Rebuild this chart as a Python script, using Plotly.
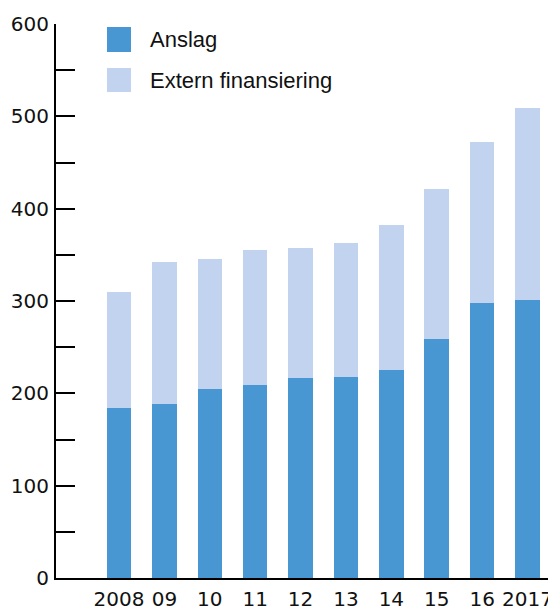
import plotly.graph_objects as go

years = ["2008", "09", "10", "11", "12", "13", "14", "15", "16", "2017"]
anslag = [184, 188, 205, 209, 217, 218, 225, 259, 298, 301]
extern = [126, 154, 141, 146, 140, 145, 157, 162, 174, 208]
series_names = ["Anslag", "Extern finansiering"]
colors = ["#4897d3", "#c2d3ef"]
y_ticks = [0, 100, 200, 300, 400, 500, 600]

pos = list(range(len(years)))

fig = go.Figure()
fig.add_trace(go.Bar(x=pos, y=anslag, name=series_names[0], marker=dict(color=colors[0], line=dict(width=0)),
                     width=0.54, showlegend=False))
fig.add_trace(go.Bar(x=pos, y=extern, name=series_names[1], marker=dict(color=colors[1], line=dict(width=0)),
                     width=0.54, showlegend=False))

tick_font = dict(family="DejaVu Sans", size=20, color="#111111")
leg_font = dict(family="Liberation Sans", size=22, color="#111111")

# page body has an 8px margin, so the figure is sized/offset to compensate
W, H = 548, 604
ML, MR, MT, MB = 48, 6, 16, 34

fig.update_layout(
    barmode="stack",
    width=W, height=H,
    margin=dict(l=ML, r=MR, t=MT, b=MB, pad=0),
    plot_bgcolor="white", paper_bgcolor="white",
    xaxis=dict(range=[-1.388, 9.495], tickvals=pos, ticktext=years, showgrid=False, zeroline=False,
               showline=True, linecolor="black", linewidth=2, ticks="", tickfont=tick_font,
               ticklabelstandoff=2, automargin=False),
    yaxis=dict(range=[0, 600], tickvals=y_ticks, showgrid=False, zeroline=False,
               showline=True, linecolor="black", linewidth=2, ticks="inside", ticklen=19,
               tickwidth=2, tickcolor="black", tickfont=tick_font, ticklabelstandoff=1,
               automargin=False,
               minor=dict(dtick=50, tick0=0, ticks="inside", ticklen=19, tickwidth=2, tickcolor="black")),
)

# right end tick of x axis
fig.add_shape(type="line", xref="paper", yref="y", x0=1, x1=1, y0=0, y1=15,
              line=dict(color="black", width=2))

# legend swatches (positions given in screenshot pixels)
pw = W - ML - MR
ph = H - MT - MB
def px_x(p):
    return (p - 8 - ML) / pw
def px_y(p):
    return (H - MB - (p - 8)) / ph

legend_rows = [(27, 52), (68, 92)]
for (ytop, ybot), nm, c in zip(legend_rows, series_names, colors):
    fig.add_shape(type="rect", xref="paper", yref="paper", x0=px_x(107), x1=px_x(131),
                  y0=px_y(ybot), y1=px_y(ytop), fillcolor=c, line=dict(width=0))
    fig.add_annotation(xref="paper", yref="paper", x=px_x(148), y=px_y((ytop + ybot) / 2),
                       text=nm, showarrow=False, xanchor="left", yanchor="middle", font=leg_font)

fig.write_html("out.html")
